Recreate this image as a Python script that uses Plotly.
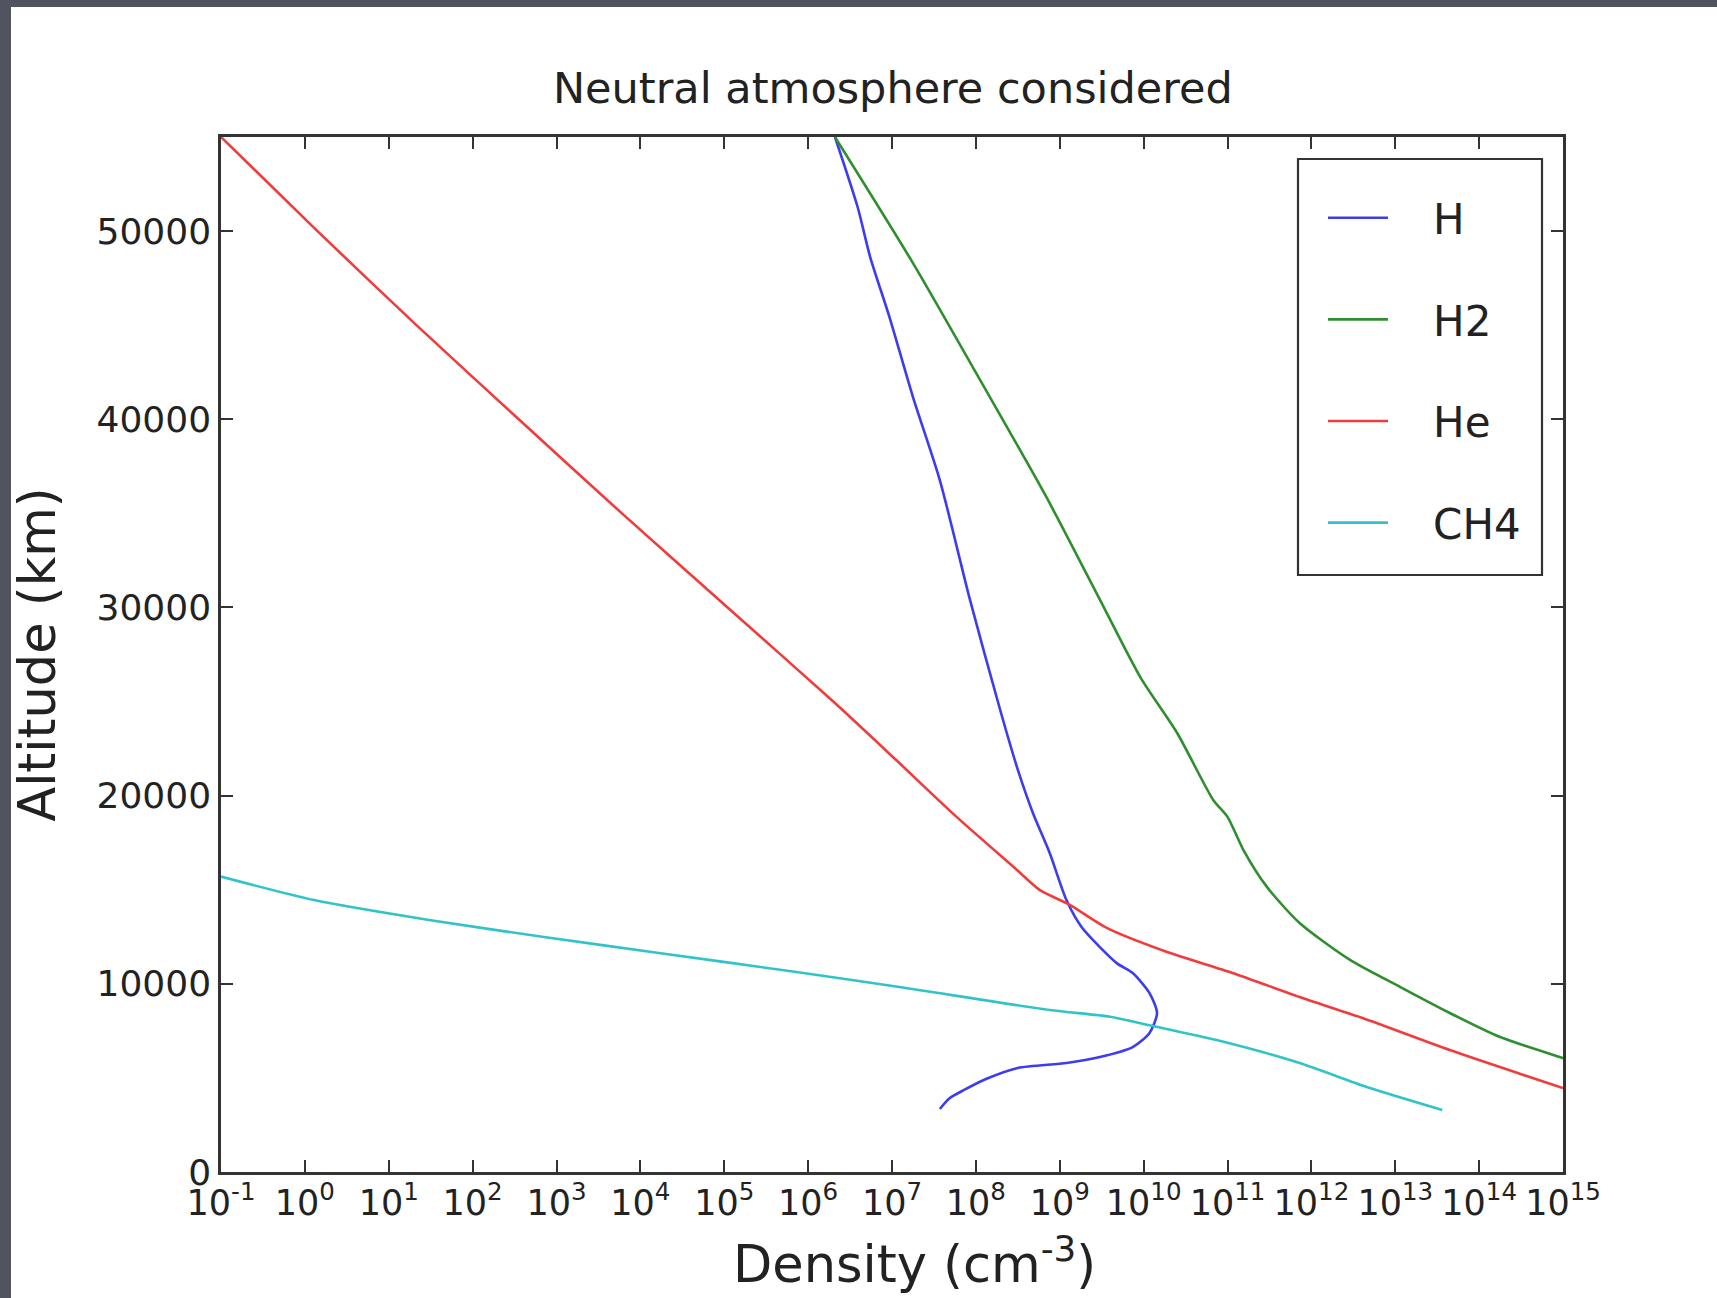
import plotly.graph_objects as go

# ---------------- data ----------------
species = ["H", "H2", "He", "CH4"]
colors = ["#3c3cf0", "#2f8f2f", "#f03c3c", "#30c4c8"]

# H : log10 density, altitude (km)
h_logn = [6.32, 6.59, 6.74, 6.97, 7.25, 7.57, 7.93, 8.29, 8.49, 8.68, 8.88, 9.08,
          9.26, 9.68, 9.87, 10.07, 10.16, 10.07, 9.87, 9.48, 9.08, 8.50, 8.12, 7.86, 7.69, 7.57]
h_alt = [55000, 51280, 48620, 45430, 41180, 36770, 30400, 24550, 21520, 19080, 16950, 14450,
         13020, 11100, 10570, 9510, 8450, 7390, 6640, 6110, 5790, 5530, 4940, 4360, 3930, 3350]

# H2
h2_logn = [6.32, 7.25, 8.05, 8.84, 9.48, 9.96, 10.40, 10.83, 11.00, 11.19, 11.47, 11.86,
           12.46, 13.06, 13.65, 14.25, 14.96, 15.0]
h2_alt = [55000, 48300, 42090, 35870, 30400, 26300, 23330, 19770, 18870, 17110, 15150, 13230,
          11270, 9830, 8450, 7170, 6110, 6050]

# He
he_logn = [-1.0, 0.15, 1.33, 2.55, 3.78, 5.04, 6.30, 7.05, 7.77, 8.49, 8.76, 9.12, 9.56,
           10.28, 11.06, 11.86, 12.61, 13.65, 15.0]
he_alt = [55000, 50000, 45000, 40000, 35000, 30000, 25000, 21890, 18870, 16050, 14990, 14190,
          12970, 11690, 10580, 9300, 8180, 6480, 4460]

# CH4
ch4_logn = [-1.0, 0.11, 1.48, 2.85, 4.22, 5.86, 7.09, 8.88, 9.60, 10.07, 10.87,
            11.86, 12.66, 13.56]
ch4_alt = [15700, 14450, 13390, 12490, 11640, 10630, 9830, 8610, 8250, 7800, 7010,
           5790, 4520, 3300]

x_tick_exponents = list(range(-1, 16))
y_ticks = [0, 10000, 20000, 30000, 40000, 50000]

series_x = [h_logn, h2_logn, he_logn, ch4_logn]
series_y = [h_alt, h2_alt, he_alt, ch4_alt]

# ---------------- figure ----------------
W, H = 1717, 1298
ml, mr, mt, mb = 221, 154, 137, 126
PW, PH = W - ml - mr, H - mt - mb
FONT = "DejaVu Sans"
TXT = "#222222"
AX = "#333333"


def px_to_paper_x(px):
    return (px - ml) / PW


def px_to_paper_y(py):
    return (H - mb - py) / PH


fig = go.Figure()
for name, col, lx, ys in zip(species, colors, series_x, series_y):
    fig.add_trace(go.Scatter(
        x=[10 ** v for v in lx], y=ys, mode="lines",
        name="\u00a0\u00a0\u00a0" + name,
        legendgroup=name,
        line=dict(color=col, width=2.6, shape="spline", smoothing=0.7),
    ))

# white slide area (dark frame shows on top & left)
fig.add_shape(type="rect", xref="paper", yref="paper",
              x0=px_to_paper_x(11), x1=px_to_paper_x(W),
              y0=px_to_paper_y(H), y1=px_to_paper_y(7),
              fillcolor="white", line=dict(width=0), layer="below")
# legend frame
fig.add_shape(type="rect", xref="paper", yref="paper",
              x0=px_to_paper_x(1298), x1=px_to_paper_x(1542),
              y0=px_to_paper_y(575), y1=px_to_paper_y(159),
              fillcolor="rgba(0,0,0,0)", line=dict(width=2.2, color=AX), layer="above")

# x-axis title (as an annotation, to match its horizontal placement)
fig.add_annotation(text="Density (cm<sup>-3</sup>)", xref="paper", yref="paper",
                   x=px_to_paper_x(915), y=px_to_paper_y(1261),
                   xanchor="center", yanchor="middle", showarrow=False,
                   font=dict(size=51, family=FONT, color=TXT))

fig.update_layout(
    width=W, height=H,
    margin=dict(l=ml, r=mr, t=mt, b=mb, autoexpand=False),
    paper_bgcolor="#51545f", plot_bgcolor="white",
    font=dict(family=FONT, color=TXT, size=35),
    title=dict(text="Neutral atmosphere considered", x=0.52, xref="container",
               y=1 - 88 / H, yref="container", yanchor="middle", xanchor="center",
               font=dict(size=43, color=TXT, family=FONT)),
    showlegend=True,
    legend=dict(x=px_to_paper_x(1323), y=px_to_paper_y(184),
                xanchor="left", yanchor="top",
                borderwidth=0, bgcolor="rgba(0,0,0,0)",
                font=dict(size=42, family=FONT, color=TXT),
                itemwidth=60, tracegroupgap=44,
                traceorder="grouped"),
)

fig.update_xaxes(
    type="log", range=[-1, 15],
    tickvals=[10 ** e for e in x_tick_exponents],
    ticktext=[f"10<sup>{e}</sup>" for e in x_tick_exponents],
    ticks="inside", ticklen=12, tickwidth=1.5, tickcolor=AX,
    showline=True, linecolor=AX, linewidth=2.5, mirror="ticks",
    showgrid=False, zeroline=False, ticklabelstandoff=-2,
    tickfont=dict(size=35, family=FONT, color=TXT),
)
fig.update_yaxes(
    range=[0, 55000], tickvals=y_ticks, tickformat="d",
    ticks="inside", ticklen=12, tickwidth=1.5, tickcolor=AX,
    showline=True, linecolor=AX, linewidth=2.5, mirror="ticks",
    showgrid=False, zeroline=False,
    tickfont=dict(size=36, family=FONT, color=TXT),
    title=dict(text="Altitude (km)", font=dict(size=51, family=FONT, color=TXT),
               standoff=25),
)

fig.write_html("out.html")
